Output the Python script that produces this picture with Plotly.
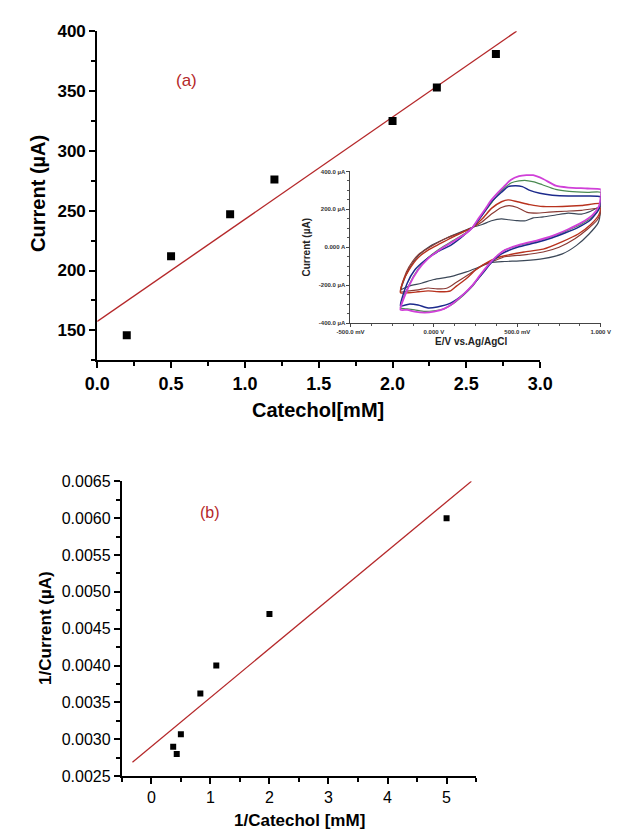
import plotly.graph_objects as go

W, H = 624, 837


def px(x):
    return x / W


def py(y):
    return 1 - y / H


# ---------------- (a) current vs catechol ----------------
catechol_mM = [0.2, 0.5, 0.9, 1.2, 2.0, 2.3, 2.7]
current_uA = [146, 212, 247, 276, 325, 353, 381]
fit_a_x = [0.0, 2.84]
fit_a_y = [157.4, 400.0]

# ---------------- (b) Lineweaver-Burk ----------------
inv_catechol = [0.37, 0.43, 0.50, 0.83, 1.10, 2.00, 5.00]
inv_current = [0.00290, 0.00280, 0.00307, 0.00362, 0.00400, 0.00470, 0.00600]
fit_b_x = [-0.32, 5.42]
fit_b_y = [0.00269, 0.00650]

# ---------------- inset: cyclic voltammograms (mV, uA) ----------------
cv_gray_E = [-200, -190, -150, -95, -15, 80, 175, 232, 290, 345, 405, 450, 500, 550, 595, 655, 730, 805, 885, 940, 1000,
             1000, 985, 930, 855, 770, 655, 540, 425, 345, 270, 195, 100, 0, -75, -150, -200]
cv_gray_I = [-235, -200, -115, -45, 10, 50, 85, 105, 120, 140, 150, 145, 140, 140, 155, 160, 170, 180, 175, 190, 215,
             195, 130, 70, 10, -35, -60, -70, -75, -80, -105, -130, -155, -170, -190, -205, -225]

cv_brown_E = [-200, -180, -150, -95, -15, 80, 155, 232, 290, 345, 405, 450, 500, 555, 615, 690, 785, 885, 1000,
              1000, 980, 920, 845, 750, 655, 540, 425, 365, 290, 215, 135, 80, 20, -35, -95, -150, -200]
cv_brown_I = [-235, -165, -105, -40, 5, 50, 75, 105, 135, 175, 210, 220, 210, 185, 180, 185, 190, 195, 205,
              185, 145, 95, 45, 0, -25, -40, -50, -70, -95, -140, -185, -215, -220, -215, -225, -230, -235]

cv_red_E = [-200, -185, -150, -95, -35, 40, 115, 175, 232, 290, 345, 405, 445, 500, 575, 655, 770, 885, 1000,
            1000, 988, 940, 865, 770, 655, 540, 425, 365, 310, 250, 195, 135, 100, 40, -35, -95, -150, -200]
cv_red_I = [-240, -180, -120, -55, -15, 20, 55, 80, 105, 150, 205, 240, 250, 240, 225, 215, 215, 220, 230,
            205, 170, 120, 70, 30, -10, -25, -45, -60, -85, -120, -165, -205, -230, -235, -230, -235, -240, -240]

cv_blue_E = [-200, -160, -115, -55, 20, 100, 175, 232, 290, 345, 405, 445, 490, 530, 575, 635, 710, 805, 920, 1000,
             1000, 988, 940, 865, 785, 710, 615, 500, 405, 345, 290, 232, 175, 100, 20, -35, -95, -150, -200]
cv_blue_I = [-310, -190, -120, -70, -25, 10, 60, 105, 170, 240, 290, 320, 325, 320, 300, 285, 275, 270, 270, 265,
             240, 200, 145, 105, 75, 50, 25, 0, -35, -80, -140, -200, -250, -295, -315, -320, -305, -300, -310]

cv_green_E = [-200, -150, -95, -35, 40, 115, 195, 232, 270, 310, 350, 385, 425, 465, 510, 555, 600, 650, 730, 810, 920, 1000,
              1000, 990, 950, 880, 805, 710, 615, 520, 425, 385, 345, 310, 270, 232, 175, 115, 60, 0, -55, -115, -160, -200]
cv_green_I = [-320, -200, -115, -55, -5, 35, 78, 105, 150, 195, 240, 280, 315, 340, 350, 352, 345, 330, 305, 295, 290, 290,
              255, 205, 160, 120, 90, 57, 32, 12, -15, -40, -77, -115, -160, -205, -255, -298, -325, -335, -338, -330, -325, -320]

cv_magenta_E = [-200, -150, -95, -35, 40, 115, 195, 232, 270, 310, 345, 385, 425, 460, 510, 555, 595, 655, 730, 805, 920, 1000,
                1000, 988, 950, 885, 805, 710, 615, 520, 425, 385, 345, 310, 270, 232, 175, 115, 60, 0, -55, -115, -160, -200]
cv_magenta_I = [-330, -205, -120, -60, -10, 30, 75, 105, 155, 205, 250, 290, 325, 355, 375, 380, 380, 360, 325, 315, 310, 305,
                270, 215, 170, 130, 95, 60, 35, 15, -15, -40, -75, -110, -155, -200, -250, -295, -325, -340, -345, -340, -330, -330]

inset_x_ticks = [-500, 0, 500, 1000]
inset_x_labels = ["-500.0 mV", "0.000 V", "500.0 mV", "1.000 V"]
inset_y_ticks = [-400, -200, 0, 200, 400]
inset_y_labels = ["-400.0 µA", "-200.0 µA", "0.000 A", "200.0 µA", "400.0 µA"]

RED = "#b5282a"
FONT = "Liberation Sans, Arial, sans-serif"

fig = go.Figure()

# (a)
fig.add_trace(go.Scatter(x=fit_a_x, y=fit_a_y, mode="lines", line=dict(color=RED, width=1.4),
                         xaxis="x", yaxis="y", showlegend=False, hoverinfo="skip"))
fig.add_trace(go.Scatter(x=catechol_mM, y=current_uA, mode="markers",
                         marker=dict(symbol="square", size=8, color="black"),
                         xaxis="x", yaxis="y", showlegend=False))

# inset
cv_sets = [
    (cv_gray_E, cv_gray_I, "#3c4858", 1.2),
    (cv_brown_E, cv_brown_I, "#8a3a34", 1.2),
    (cv_red_E, cv_red_I, "#b8321e", 1.4),
    (cv_green_E, cv_green_I, "#4b8a52", 1.2),
    (cv_blue_E, cv_blue_I, "#1c2a8c", 1.5),
    (cv_magenta_E, cv_magenta_I, "#d040d8", 1.8),
]
for e, i, c, w in cv_sets:
    fig.add_trace(go.Scatter(x=e, y=i, mode="lines", line=dict(color=c, width=w, shape="spline", smoothing=0.6),
                             xaxis="x2", yaxis="y2", showlegend=False, hoverinfo="skip"))

# (b)
fig.add_trace(go.Scatter(x=fit_b_x, y=fit_b_y, mode="lines", line=dict(color=RED, width=1.3),
                         xaxis="x3", yaxis="y3", showlegend=False, hoverinfo="skip"))
fig.add_trace(go.Scatter(x=inv_catechol, y=inv_current, mode="markers",
                         marker=dict(symbol="square", size=6, color="black"),
                         xaxis="x3", yaxis="y3", showlegend=False))

main_axis = dict(showline=True, linecolor="black", linewidth=2, ticks="outside", ticklen=6, tickwidth=2,
                 tickcolor="black", showgrid=False, zeroline=False)

fig.update_layout(
    width=W, height=H, margin=dict(l=0, r=0, t=0, b=0),
    paper_bgcolor="white", plot_bgcolor="white",
    font=dict(family=FONT, color="black"),
    xaxis=dict(main_axis, domain=[px(87), px(550)], anchor="y", range=[0, 3], dtick=0.5, tick0=0,
               tickformat=".1f", tickfont=dict(size=18, weight="bold"),
               minor=dict(ticks="outside", ticklen=4, tickwidth=1.5, dtick=0.25, tickcolor="black")),
    yaxis=dict(main_axis, domain=[py(359), py(22.7)], anchor="x", range=[125, 400], dtick=50, tick0=0,
               tickfont=dict(size=17, weight="bold"),
               minor=dict(ticks="outside", ticklen=4, tickwidth=1.5, dtick=25, tickcolor="black")),
    xaxis2=dict(domain=[px(351.7), px(613.3)], anchor="y2", range=[-500, 1000], showline=True, linecolor="#444",
                linewidth=1, ticks="outside", ticklen=3, tickwidth=1, tickcolor="#444", showgrid=False,
                zeroline=False, tickvals=inset_x_ticks, ticktext=inset_x_labels,
                tickfont=dict(size=6, weight="bold", color="#333"),
                minor=dict(ticks="outside", ticklen=2, tickwidth=0.8, dtick=125, tickcolor="#555")),
    yaxis2=dict(domain=[py(321), py(166)], anchor="x2", range=[-400, 400], showline=True, linecolor="#444",
                linewidth=1, ticks="outside", ticklen=3, tickwidth=1, tickcolor="#444", showgrid=False,
                zeroline=False, tickvals=inset_y_ticks, ticktext=inset_y_labels,
                tickfont=dict(size=6, weight="bold", color="#333"),
                minor=dict(ticks="outside", ticklen=2, tickwidth=0.8, dtick=50, tickcolor="#555")),
    xaxis3=dict(main_axis, domain=[px(112.7), px(483)], anchor="y3", range=[-0.5, 5.5], dtick=1, tick0=0,
                tickfont=dict(size=16),
                minor=dict(ticks="outside", ticklen=4, tickwidth=1.5, dtick=0.5, tickcolor="black")),
    yaxis3=dict(main_axis, domain=[py(784), py(482.7)], anchor="x3", range=[0.0025, 0.0065], dtick=0.0005,
                tick0=0, tickformat=".4f", tickfont=dict(size=16),
                minor=dict(ticks="outside", ticklen=4, tickwidth=1.5, dtick=0.00025, tickcolor="black")),
)

ann = [
    dict(x=px(318), y=py(410), text="Catechol[mM]", font=dict(size=20, weight="bold")),
    dict(x=px(25), y=py(188), text="Current (µA)", textangle=-90, font=dict(size=20, weight="bold")),
    dict(x=px(180), y=py(73), text="(a)", font=dict(size=17, color=RED)),
    dict(x=px(478), y=py(340), text="E/V vs.Ag/AgCl", font=dict(size=10, weight="bold", color="#222")),
    dict(x=px(306), y=py(243), text="Current (µA)", textangle=-90, font=dict(size=10, weight="bold", color="#222")),
    dict(x=px(298), y=py(829), text="1/Catechol [mM]", font=dict(size=17, weight="bold")),
    dict(x=px(33), y=py(633), text="1/Current (µA)", textangle=-90, font=dict(size=17, weight="bold")),
    dict(x=px(205), y=py(515), text="(b)", font=dict(size=16, color=RED)),
]
for a in ann:
    a.update(xref="paper", yref="paper", showarrow=False, xanchor="center", yanchor="middle")
fig.update_layout(annotations=ann)

fig.write_html("out.html", config={"displayModeBar": False},
               post_script="document.body.style.margin='0';document.body.style.overflow='hidden';")
